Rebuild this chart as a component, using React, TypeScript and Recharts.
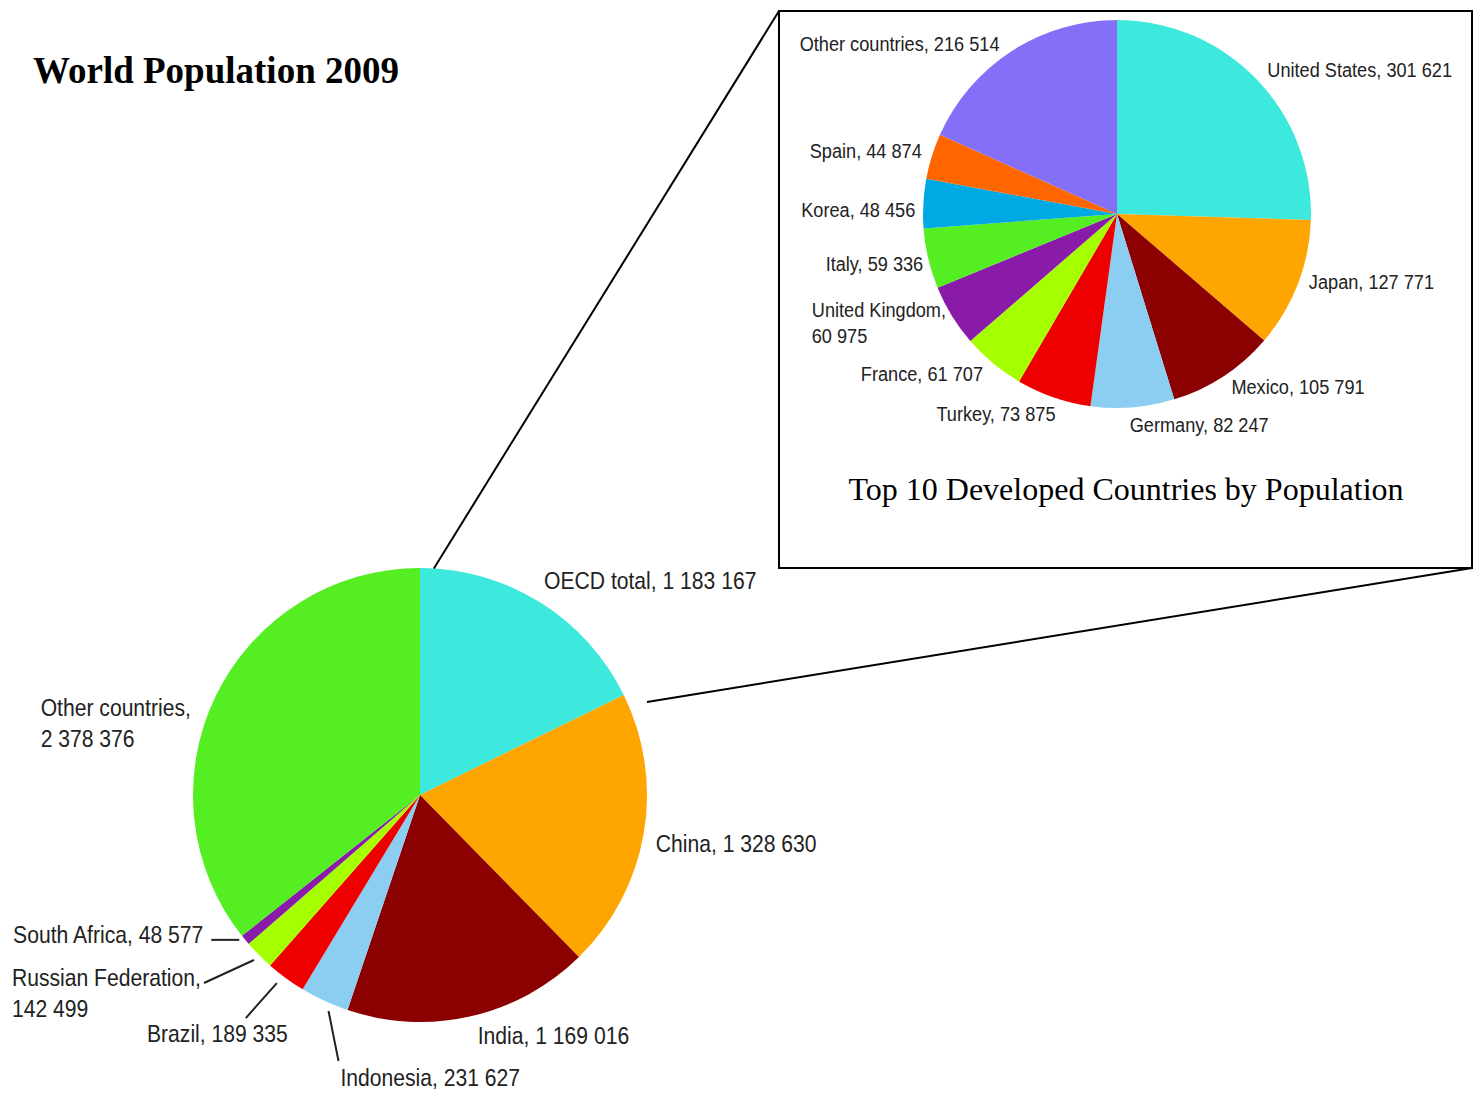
import React from 'react';
import { PieChart, Pie, Cell } from 'recharts';

// ---------- data ----------
const worldNames = ['OECD total', 'China', 'India', 'Indonesia', 'Brazil', 'Russian Federation', 'South Africa', 'Other countries'];
const worldValues = [1183167, 1328630, 1169016, 231627, 189335, 142499, 48577, 2378376];
const worldColors = ['#3de8dc', '#ffa500', '#8b0000', '#8ccdf2', '#ee0000', '#a6ff00', '#8a1aa8', '#55ee22'];

const oecdNames = ['United States', 'Japan', 'Mexico', 'Germany', 'Turkey', 'France', 'United Kingdom', 'Italy', 'Korea', 'Spain', 'Other countries'];
const oecdValues = [301621, 127771, 105791, 82247, 73875, 61707, 60975, 59336, 48456, 44874, 216514];
const oecdColors = ['#3de8dc', '#ffa500', '#8b0000', '#8ccdf2', '#ee0000', '#a6ff00', '#8a1aa8', '#55ee22', '#00a8e4', '#ff6600', '#8470f8'];

const mainTitle = 'World Population 2009';
const insetTitle = 'Top 10 Developed Countries by Population';

const worldData = worldNames.map((name, i) => ({ name, value: worldValues[i] }));
const oecdData = oecdNames.map((name, i) => ({ name, value: oecdValues[i] }));

// ---------- layout / style ----------
const W = 1480;
const H = 1094;
const MAIN = { cx: 420, cy: 795, r: 227 };
const INSET = { cx: 1117, cy: 214, r: 194 };
const BOX = { x: 779, y: 11, w: 693, h: 557 };
const LABEL_FONT = '"Liberation Sans", Arial, Helvetica, sans-serif';
const SERIF = '"Liberation Serif", "Times New Roman", serif';
const TEXT_COLOR = '#222222';

type Place = { dx: number; dy: number; anchor: 'start' | 'end' | 'middle'; wrap?: boolean; lead?: [number, number, number, number] };

// label offsets relative to the slice's outer mid-point
const worldPlace: Place[] = [
  { dx: 4, dy: -21, anchor: 'start' },
  { dx: 12, dy: 11, anchor: 'start' },
  { dx: 7, dy: 20, anchor: 'start' },
  { dx: 16, dy: 77, anchor: 'start', lead: [4, 10, 14, 60] },
  { dx: 2, dy: 56, anchor: 'end', lead: [-9, 5, -40, 40] },
  { dx: -247, dy: 23, anchor: 'start', wrap: true, lead: [-5, 5, -55, 28] },
  { dx: -42, dy: -5, anchor: 'end', lead: [-6, 0, -34, 0] },
  { dx: -175, dy: 12, anchor: 'start', wrap: true },
];

const oecdPlace: Place[] = [
  { dx: 11, dy: -9, anchor: 'start' },
  { dx: 11, dy: -3, anchor: 'start' },
  { dx: 8, dy: 10, anchor: 'start' },
  { dx: -3, dy: 17, anchor: 'start' },
  { dx: 2, dy: 16, anchor: 'end' },
  { dx: -10, dy: 10, anchor: 'end' },
  { dx: -140, dy: -6, anchor: 'start', wrap: true },
  { dx: -5, dy: 5, anchor: 'end' },
  { dx: -8, dy: 6, anchor: 'end' },
  { dx: -10, dy: -6, anchor: 'end' },
  { dx: -12, dy: -8, anchor: 'end' },
];

const fmt = (v: number) => String(v).replace(/\B(?=(\d{3})+(?!\d))/g, ' ');
const RAD = Math.PI / 180;

function makeLabel(places: Place[], fontSize: number, squeeze: number, lineH: number) {
  return (props: any) => {
    const { cx, cy, midAngle, outerRadius, index, name, value } = props;
    const p = places[index];
    const px = cx + outerRadius * Math.cos(-midAngle * RAD);
    const py = cy + outerRadius * Math.sin(-midAngle * RAD);
    const lines = p.wrap ? [`${name},`, fmt(value)] : [`${name}, ${fmt(value)}`];
    return (
      <g key={`lbl-${index}`}>
        {p.lead && (
          <line
            x1={px + p.lead[0]}
            y1={py + p.lead[1]}
            x2={px + p.lead[2]}
            y2={py + p.lead[3]}
            stroke="#222"
            strokeWidth={2}
          />
        )}
        {lines.map((t, k) => (
          <text
            key={k}
            x={0}
            y={0}
            transform={`translate(${px + p.dx},${py + p.dy + k * lineH}) scale(${squeeze},1)`}
            textAnchor={p.anchor}
            dominantBaseline="central"
            fontFamily={LABEL_FONT}
            fontSize={fontSize}
            fill={TEXT_COLOR}
          >
            {t}
          </text>
        ))}
      </g>
    );
  };
}

export default function App() {
  const topPt = { x: MAIN.cx + MAIN.r * Math.cos(86.5 * RAD), y: MAIN.cy - MAIN.r * Math.sin(86.5 * RAD) };
  const sidePt = { x: 647, y: 702 };
  return (
    <div style={{ position: 'absolute', left: 0, top: 0, width: W, height: H, background: '#fff' }}>
      <PieChart
        width={W}
        height={H}
        margin={{ top: 0, right: 0, bottom: 0, left: 0 }}
        style={{ position: 'absolute', left: 0, top: 0 }}
      >
        <Pie
          data={worldData}
          dataKey="value"
          nameKey="name"
          cx={MAIN.cx}
          cy={MAIN.cy}
          outerRadius={MAIN.r}
          innerRadius={0}
          startAngle={90}
          endAngle={-270}
          stroke="none"
          isAnimationActive={false}
          labelLine={false}
          label={makeLabel(worldPlace, 24, 0.88, 31)}
        >
          {worldData.map((d, i) => (
            <Cell key={d.name} fill={worldColors[i]} />
          ))}
        </Pie>
        <Pie
          data={oecdData}
          dataKey="value"
          nameKey="name"
          cx={INSET.cx}
          cy={INSET.cy}
          outerRadius={INSET.r}
          innerRadius={0}
          startAngle={90}
          endAngle={-270}
          stroke="none"
          isAnimationActive={false}
          labelLine={false}
          label={makeLabel(oecdPlace, 21, 0.865, 26)}
        >
          {oecdData.map((d, i) => (
            <Cell key={d.name} fill={oecdColors[i]} />
          ))}
        </Pie>
      </PieChart>
      <svg width={W} height={H} style={{ position: 'absolute', left: 0, top: 0, pointerEvents: 'none' }}>
        <rect x={BOX.x} y={BOX.y} width={BOX.w} height={BOX.h} fill="none" stroke="#000" strokeWidth={2} />
        <line x1={topPt.x} y1={topPt.y} x2={BOX.x} y2={BOX.y} stroke="#000" strokeWidth={2} />
        <line x1={sidePt.x} y1={sidePt.y} x2={BOX.x + BOX.w} y2={BOX.y + BOX.h} stroke="#000" strokeWidth={2} />
        <text x={33} y={83} fontFamily={SERIF} fontWeight="bold" fontSize={37} fill="#000">
          {mainTitle}
        </text>
        <text x={1126} y={500} textAnchor="middle" fontFamily={SERIF} fontSize={32} fill="#000">
          {insetTitle}
        </text>
      </svg>
    </div>
  );
}
